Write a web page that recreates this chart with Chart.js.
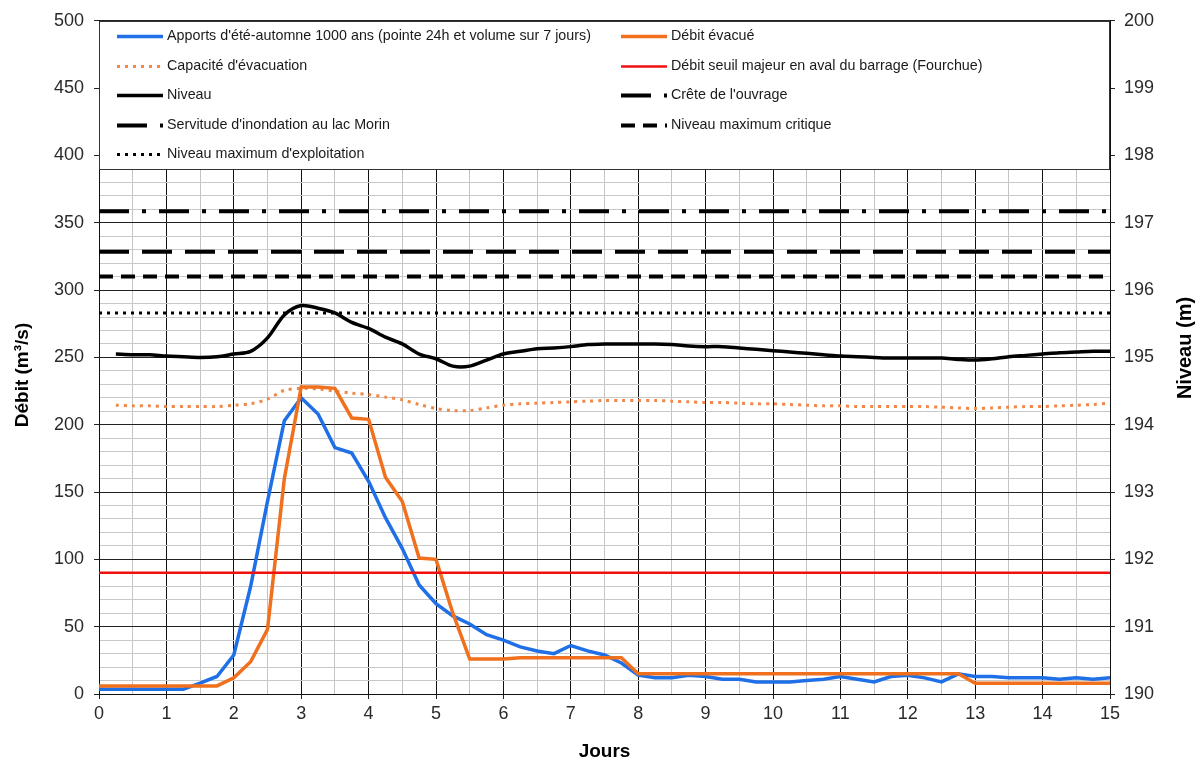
<!DOCTYPE html>
<html lang="fr">
<head>
<meta charset="utf-8">
<title>Apports d'été-automne 1000 ans</title>
<script src="https://cdn.jsdelivr.net/npm/chart.js@4.4.1/dist/chart.umd.min.js"></script>
<style>
  html, body { margin: 0; padding: 0; background: #ffffff; }
  #graphique { display: block; }
</style>
</head>
<body>
<canvas id="graphique" width="1204" height="768"></canvas>
<script>
// Pas de temps de 6 h (jours)
const jours = [0, 0.25, 0.5, 0.75, 1, 1.25, 1.5, 1.75, 2, 2.25, 2.5, 2.75, 3, 3.25, 3.5, 3.75,
  4, 4.25, 4.5, 4.75, 5, 5.25, 5.5, 5.75, 6, 6.25, 6.5, 6.75, 7, 7.25, 7.5, 7.75,
  8, 8.25, 8.5, 8.75, 9, 9.25, 9.5, 9.75, 10, 10.25, 10.5, 10.75, 11, 11.25, 11.5, 11.75,
  12, 12.25, 12.5, 12.75, 13, 13.25, 13.5, 13.75, 14, 14.25, 14.5, 14.75, 15];

// Apports d'été-automne 1000 ans (m³/s)
const apports = [3.5, 3.5, 3.5, 3.5, 3.5, 3.5, 8, 13, 29,
  80, 143, 203, 220, 208, 183, 179, 158,
  131, 108, 81, 67, 58, 52, 44, 40,
  35, 32, 30, 36, 32, 29, 23, 14,
  12, 12, 14, 13, 11, 11, 9, 9,
  9, 10, 11, 13, 11, 9, 13, 14,
  12, 9, 15, 13, 13, 12, 12, 12,
  11, 12, 11, 12];

// Débit évacué (m³/s)
const debitEvacue = [6, 6, 6, 6, 6, 6, 6, 6, 12,
  24, 48, 160, 228, 228, 227, 205, 204,
  161, 143, 101, 100, 60, 26, 26, 26,
  27, 27, 27, 27, 27, 27, 27, 15,
  15, 15, 15, 15, 15, 15, 15, 15,
  15, 15, 15, 15, 15, 15, 15, 15,
  15, 15, 15, 8, 8, 8, 8, 8,
  8, 8, 8, 8];

// Niveau et capacité d'évacuation, à partir de 0,25 jour
const joursNiveau = jours.slice(1);

// Niveau du réservoir (m)
const niveau = [195.05, 195.04, 195.04, 195.02, 195.01, 195.00, 195.01, 195.05,
  195.09, 195.29, 195.63, 195.77, 195.73, 195.66, 195.52, 195.43,
  195.30, 195.20, 195.05, 194.98, 194.87, 194.87, 194.96, 195.05,
  195.09, 195.13, 195.14, 195.16, 195.19, 195.20, 195.20, 195.20,
  195.20, 195.19, 195.17, 195.16, 195.16, 195.14, 195.12, 195.10,
  195.08, 195.06, 195.04, 195.02, 195.01, 195.00, 194.99, 194.99,
  194.99, 194.99, 194.97, 194.96, 194.98, 195.01, 195.03, 195.05,
  195.07, 195.08, 195.09, 195.09];

// Capacité d'évacuation (m³/s)
const capacite = [214.5, 214, 214, 213.5, 213.5, 213.5, 213.5, 214.5,
  215.5, 219, 225.5, 227, 226.5, 225, 223.5, 222.5,
  220.5, 218.5, 215, 212, 210.5, 210.5, 212.5, 214.5,
  215.5, 216, 216.5, 217, 217.5, 218, 218, 218,
  218, 217.5, 217, 216.5, 216.5, 216, 215.5, 215.5,
  215, 214.5, 214, 214, 213.5, 213.5, 213.5, 213.5,
  213.5, 213, 212.5, 212, 212.5, 213, 213.5, 213.5,
  214, 214.5, 215, 216];

// Seuils
const debitSeuilMajeur = [90, 90];          // m³/s, en aval du barrage (Fourchue)
const creteOuvrage = [197.17, 197.17];      // m
const servitudeMorin = [196.57, 196.57];    // m
const niveauMaxCritique = [196.20, 196.20]; // m
const niveauMaxExploitation = [195.66, 195.66]; // m
const bornesJours = [0, 15];

// Graduations
const graduationsDebit = [0, 50, 100, 150, 200, 250, 300, 350, 400, 450, 500];
const graduationsNiveau = [190, 191, 192, 193, 194, 195, 196, 197, 198, 199, 200];
const graduationsJours = [0, 1, 2, 3, 4, 5, 6, 7, 8, 9, 10, 11, 12, 13, 14, 15];

const points = (xs, ys) => xs.map((x, i) => ({ x: x, y: ys[i] }));

const POLICE = "'Liberation Sans', Arial, sans-serif";
Chart.defaults.font.family = POLICE;
Chart.defaults.color = '#2a2a2a';

const BLEU = '#1f6fe6';
const ORANGE = '#f0701e';

const series = [
  { label: "Apports d'été-automne 1000 ans (pointe 24h et volume sur 7 jours)",
    data: points(jours, apports), yAxisID: 'y',
    borderColor: BLEU, borderWidth: 3.5, order: 2 },
  { label: 'Débit évacué',
    data: points(jours, debitEvacue), yAxisID: 'y',
    borderColor: ORANGE, borderWidth: 3.5, order: 1 },
  { label: "Capacité d'évacuation",
    data: points(joursNiveau, capacite), yAxisID: 'y',
    borderColor: '#f08848', borderWidth: 3, borderDash: [3, 5], tension: 0.3, order: 3 },
  { label: 'Débit seuil majeur en aval du barrage (Fourchue)',
    data: points(bornesJours, debitSeuilMajeur), yAxisID: 'y',
    borderColor: '#f01010', borderWidth: 2.5, order: 0 },
  { label: 'Niveau',
    data: points(joursNiveau, niveau), yAxisID: 'y2',
    borderColor: '#000000', borderWidth: 3.5, tension: 0.3, order: 4 },
  { label: "Crête de l'ouvrage",
    data: points(bornesJours, creteOuvrage), yAxisID: 'y2',
    borderColor: '#000000', borderWidth: 4, borderDash: [30, 13, 4, 13], order: 5 },
  { label: "Servitude d'inondation au lac Morin",
    data: points(bornesJours, servitudeMorin), yAxisID: 'y2',
    borderColor: '#000000', borderWidth: 4, borderDash: [30, 13], order: 5 },
  { label: 'Niveau maximum critique',
    data: points(bornesJours, niveauMaxCritique), yAxisID: 'y2',
    borderColor: '#000000', borderWidth: 4, borderDash: [14, 8], order: 5 },
  { label: "Niveau maximum d'exploitation",
    data: points(bornesJours, niveauMaxExploitation), yAxisID: 'y2',
    borderColor: '#000000', borderWidth: 3, borderDash: [3, 5], order: 5 }
];

// Disposition de la légende : deux colonnes, dans l'ordre des lignes
const ordreLegende = [
  [0, 1],
  [2, 3],
  [4, 5],
  [6, 7],
  [8, null]
];

function titreVertical(ctx, texte, x, y, taille) {
  ctx.save();
  ctx.font = 'bold ' + taille + 'px ' + POLICE;
  ctx.fillStyle = '#000000';
  ctx.textAlign = 'center';
  ctx.textBaseline = 'middle';
  ctx.translate(x, y);
  ctx.rotate(-Math.PI / 2);
  ctx.fillText(texte, 0, 0);
  ctx.restore();
}

// Cadre de légende blanc dans le haut de la zone de tracé + titres des axes verticaux
const legendeCadre = {
  id: 'legendeCadre',
  afterDraw(chart) {
    const { ctx, chartArea } = chart;
    const yBas = Math.round(chart.scales.y.getPixelForValue(390));
    const gauche = Math.round(chartArea.left);
    const droite = Math.round(chartArea.right);
    const haut = Math.round(chartArea.top);
    ctx.save();
    ctx.fillStyle = '#ffffff';
    ctx.fillRect(gauche, haut, droite - gauche, yBas - haut);
    ctx.strokeStyle = '#333333';
    ctx.lineWidth = 1;
    ctx.strokeRect(gauche + 0.5, haut + 0.5, droite - gauche - 1, yBas - haut);

    ctx.font = '14.3px ' + POLICE;
    ctx.textBaseline = 'middle';
    ctx.textAlign = 'left';
    const colonnes = [gauche + 18, gauche + 522];
    ordreLegende.forEach((rangee, r) => {
      const y = haut + 15 + r * 29.6;
      rangee.forEach((idx, c) => {
        if (idx === null) return;
        const ds = chart.data.datasets[idx];
        const x0 = colonnes[c];
        ctx.save();
        ctx.strokeStyle = ds.borderColor;
        ctx.lineWidth = ds.borderWidth;
        ctx.setLineDash(ds.borderDash || []);
        ctx.beginPath();
        ctx.moveTo(x0, Math.round(y) + 0.5);
        ctx.lineTo(x0 + 46, Math.round(y) + 0.5);
        ctx.stroke();
        ctx.restore();
        ctx.fillStyle = '#1a1a1a';
        ctx.fillText(ds.label, x0 + 50, y);
      });
    });
    ctx.restore();

    titreVertical(ctx, 'Débit (m³/s)', 23, 375, 19);
    titreVertical(ctx, 'Niveau (m)', 1185, 348, 20);
  }
};

const estDans = (liste, v) => liste.some(g => Math.abs(g - v) < 1e-6);

new Chart(document.getElementById('graphique'), {
  type: 'line',
  data: { datasets: series },
  plugins: [legendeCadre],
  options: {
    responsive: false,
    animation: false,
    devicePixelRatio: 1,
    layout: { padding: { top: 18, left: 0, right: 0, bottom: 0 } },
    elements: {
      point: { radius: 0, hoverRadius: 0 },
      line: { fill: false, tension: 0, borderCapStyle: 'butt' }
    },
    plugins: {
      legend: { display: false },
      tooltip: { enabled: false }
    },
    scales: {
      x: {
        type: 'linear', position: 'bottom', min: 0, max: 15,
        afterFit: s => { s.height = 74; },
        ticks: {
          stepSize: 0.5, autoSkip: false, maxRotation: 0, maxTicksLimit: 100,
          padding: 4, font: { size: 18 },
          callback: v => estDans(graduationsJours, v) ? String(v) : ''
        },
        grid: {
          color: c => estDans(graduationsJours, c.tick.value) ? '#111111' : '#c4c4c4',
          tickColor: c => estDans(graduationsJours, c.tick.value) ? '#222222' : 'rgba(0,0,0,0)',
          tickLength: 5, lineWidth: 1
        },
        border: { color: '#111111', width: 1 },
        title: {
          display: true, text: 'Jours', color: '#000000',
          font: { size: 19, weight: 'bold' }, padding: { top: 0, bottom: 5 }
        }
      },
      y: {
        type: 'linear', position: 'left', min: 0, max: 500,
        afterFit: s => { s.width = 99; },
        ticks: {
          stepSize: 10, autoSkip: false, maxTicksLimit: 100,
          padding: 10, font: { size: 18 },
          callback: v => estDans(graduationsDebit, v) ? String(v) : ''
        },
        grid: {
          color: c => estDans(graduationsDebit, c.tick.value) ? '#222222' : '#c8c8c8',
          tickColor: c => estDans(graduationsDebit, c.tick.value) ? '#222222' : 'rgba(0,0,0,0)',
          tickLength: 5, lineWidth: 1
        },
        border: { color: '#111111', width: 1 }
      },
      y2: {
        type: 'linear', position: 'right', min: 190, max: 200,
        afterFit: s => { s.width = 94; },
        ticks: {
          stepSize: 1, autoSkip: false, padding: 9, font: { size: 18 },
          callback: v => estDans(graduationsNiveau, v) ? String(v) : ''
        },
        grid: { drawOnChartArea: false, tickLength: 5, tickColor: '#222222' },
        border: { color: '#111111', width: 1 }
      }
    }
  }
});
</script>
</body>
</html>
